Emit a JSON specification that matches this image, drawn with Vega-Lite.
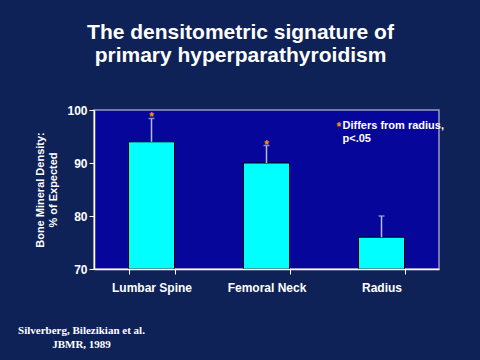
{
  "$schema": "https://vega.github.io/schema/vega-lite/v6.json",
  "width": 345,
  "height": 159,
  "autosize": {"type": "none"},
  "padding": {"left": 94, "top": 110, "right": 41, "bottom": 91},
  "background": "#0e2258",
  "title": {
    "text": ["The densitometric signature of", "primary hyperparathyroidism"],
    "anchor": "middle",
    "frame": "group",
    "dx": -26,
    "offset": 38,
    "font": "Liberation Sans",
    "fontSize": 21,
    "fontWeight": "bold",
    "color": "white",
    "lineHeight": 23
  },
  "config": {
    "view": {"fill": "#06069a", "stroke": "#9a9ac0", "strokeWidth": 1.5},
    "font": "Liberation Sans"
  },
  "datasets": {
    "bars": [
      {"site": "Lumbar Spine", "value": 94, "err": 98.4, "sig": true},
      {"site": "Femoral Neck", "value": 90, "err": 93.3, "sig": true},
      {"site": "Radius", "value": 76, "err": 80, "sig": false}
    ],
    "notes": [
      {"site": "Radius", "value": 97.0, "label": "Differs from radius,"},
      {"site": "Radius", "value": 94.6, "label": "p<.05"}
    ]
  },
  "layer": [
    {
      "data": {"name": "bars"},
      "mark": {"type": "bar", "color": "#00ffff", "stroke": "black", "strokeWidth": 1},
      "encoding": {
        "x": {
          "field": "site", "type": "nominal", "sort": null,
          "scale": {"paddingInner": 0.6, "paddingOuter": 0.3},
          "axis": {
            "zindex": 1,
            "title": ["Silverberg, Bilezikian et al.", "JBMR, 1989"],
            "titleFont": "Liberation Serif",
            "titleFontSize": 11,
            "titleFontWeight": "bold",
            "titleColor": "white",
            "titleX": -13,
            "titleY": 55,
            "titleAlign": "center",
            "titleLineHeight": 14,
            "labelAngle": 0,
            "labelFont": "Liberation Sans",
            "labelFontSize": 12,
            "labelFontWeight": "bold",
            "labelColor": "white",
            "labelPadding": 8,
            "tickBand": "extent",
            "tickColor": "white",
            "tickSize": 5,
            "domainColor": "white",
            "domainWidth": 1.5
          }
        },
        "y": {
          "field": "value", "type": "quantitative",
          "scale": {"domain": [70, 100], "nice": false, "zero": false},
          "axis": {
            "zindex": 1,
            "values": [70, 80, 90, 100],
            "grid": false,
            "title": ["Bone Mineral Density:", "% of Expected"],
            "titleFont": "Liberation Sans",
            "titleFontSize": 11,
            "titleFontWeight": "bold",
            "titleColor": "white",
            "titleLineHeight": 13,
            "titlePadding": 8,
            "labelFont": "Liberation Sans",
            "labelFontSize": 12,
            "labelFontWeight": "bold",
            "labelColor": "white",
            "labelPadding": 2,
            "tickColor": "white",
            "tickSize": 5,
            "domainColor": "white",
            "domainWidth": 1.5
          }
        },
        "y2": {"datum": 70}
      }
    },
    {
      "data": {"name": "bars"},
      "mark": {"type": "rule", "color": "#b8b8e8", "strokeWidth": 1.5},
      "encoding": {
        "x": {"field": "site", "type": "nominal", "sort": null},
        "y": {"field": "value", "type": "quantitative"},
        "y2": {"field": "err"}
      }
    },
    {
      "data": {"name": "bars"},
      "mark": {"type": "tick", "color": "#b8b8e8", "orient": "horizontal", "size": 6, "thickness": 1.5},
      "encoding": {
        "x": {"field": "site", "type": "nominal", "sort": null},
        "y": {"field": "err", "type": "quantitative"}
      }
    },
    {
      "data": {"name": "bars"},
      "transform": [{"filter": "datum.sig"}],
      "mark": {"type": "text", "text": "*", "color": "#ff9900", "fontSize": 12, "fontWeight": "bold", "baseline": "bottom", "dy": 6},
      "encoding": {
        "x": {"field": "site", "type": "nominal", "sort": null},
        "y": {"field": "err", "type": "quantitative"}
      }
    },
    {
      "data": {"name": "notes"},
      "mark": {"type": "text", "align": "left", "baseline": "middle", "dx": -39, "color": "white", "fontSize": 11, "fontWeight": "bold", "font": "Liberation Sans"},
      "encoding": {
        "x": {"field": "site", "type": "nominal", "sort": null},
        "y": {"field": "value", "type": "quantitative"},
        "text": {"field": "label"}
      }
    },
    {
      "data": {"name": "notes"},
      "transform": [{"filter": "datum.label == 'Differs from radius,'"}],
      "mark": {"type": "text", "text": "*", "align": "left", "baseline": "middle", "dx": -45, "dy": 1, "color": "#ff9900", "fontSize": 12, "fontWeight": "bold"},
      "encoding": {
        "x": {"field": "site", "type": "nominal", "sort": null},
        "y": {"field": "value", "type": "quantitative"}
      }
    }
  ]
}
